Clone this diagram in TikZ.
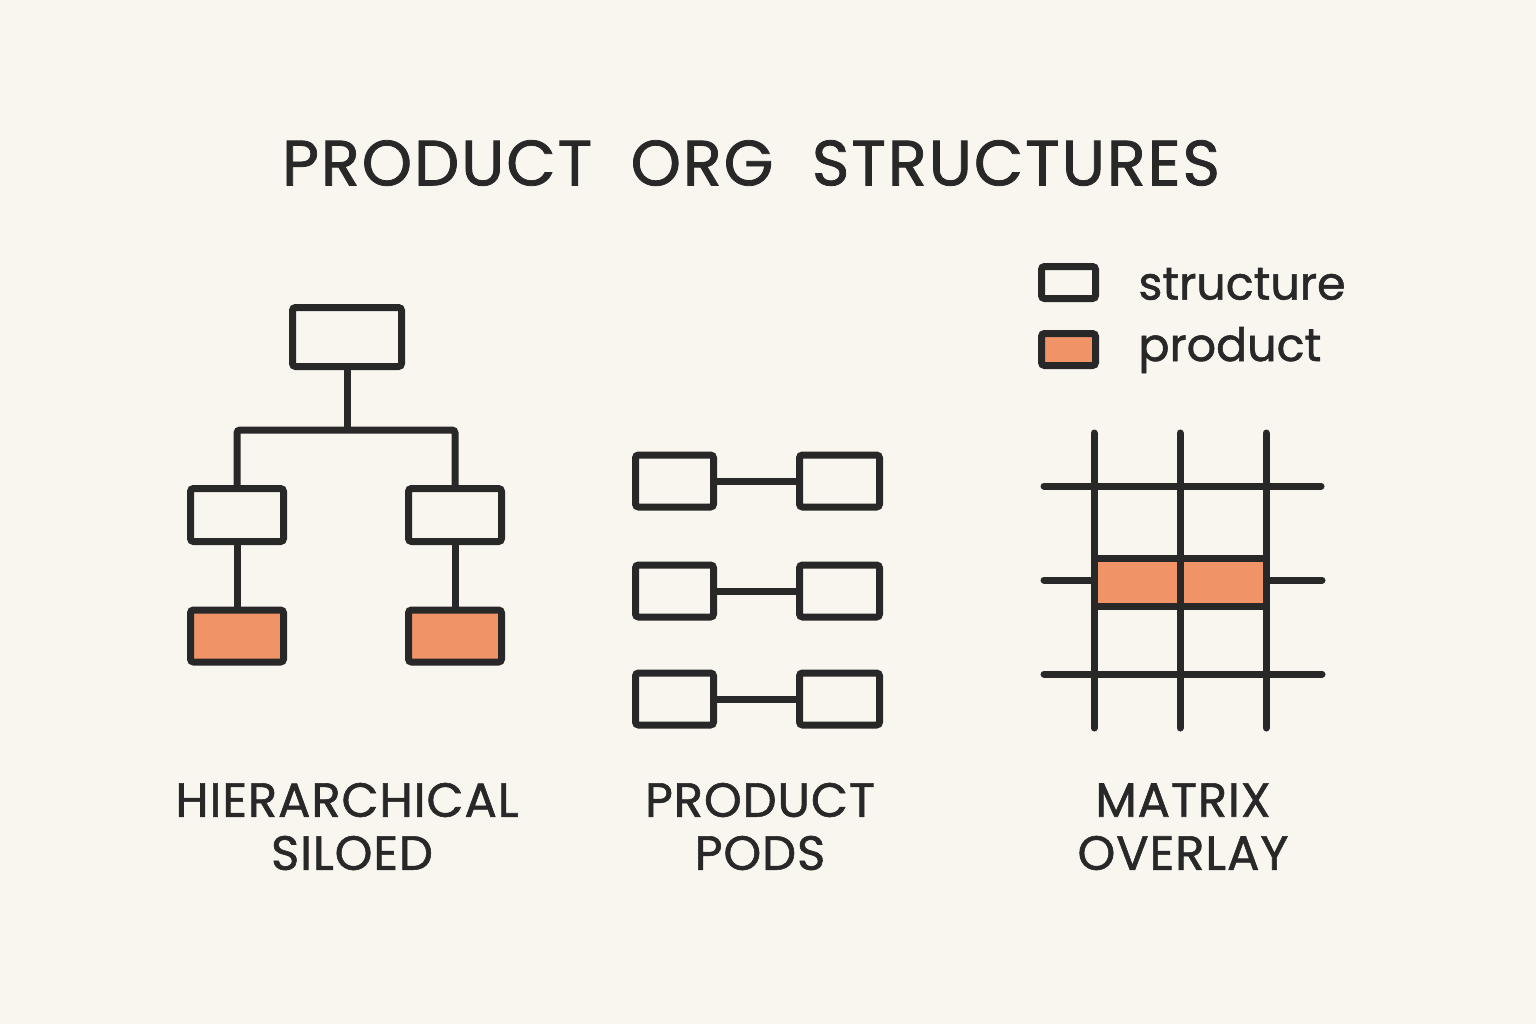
\documentclass[tikz,border=0pt]{standalone}
\usepackage{fontspec}
\setmainfont[FakeBold=1.2]{Poppins}
\definecolor{bg}{RGB}{249,246,240}
\definecolor{ink}{RGB}{40,40,40}
\definecolor{prod}{RGB}{240,148,104}
\begin{document}
\begin{tikzpicture}[x=0.5pt,y=-0.5pt,
  box/.style={draw=ink,line width=3.5pt,rounded corners=1.5pt,fill=bg,inner sep=0pt},
  pbox/.style={box,fill=prod},
  link/.style={draw=ink,line width=3.5pt},
  gline/.style={draw=ink,line width=3.5pt,line cap=round},
  lbl/.style={font=\fontsize{24}{28}\selectfont\addfontfeature{LetterSpace=2},text=ink,align=center,inner sep=0pt},
  leg/.style={font=\fontsize{23}{28}\selectfont,text=ink,anchor=west,inner sep=0pt}]
\fill[bg] (0,0) rectangle (1536,1024);
\useasboundingbox (0,0) rectangle (1536,1024);
% title
\node[font=\fontsize{32}{38}\selectfont\addfontfeature{LetterSpace=3},text=ink,inner sep=0pt] (title) at (751,163) {PRODUCT\hspace{0.6em}ORG\hspace{0.6em}STRUCTURES};
% hierarchy
\node[box,minimum width=54.5pt,minimum height=29.5pt] (top) at (347,337) {};
\node[box,minimum width=46.5pt,minimum height=26.5pt] (ml) at (237,515) {};
\node[box,minimum width=46.5pt,minimum height=26.5pt] (mr) at (455,515) {};
\node[pbox,minimum width=46.5pt,minimum height=26pt] (bl) at (237,636) {};
\node[pbox,minimum width=46.5pt,minimum height=26pt] (br) at (455,636) {};
\coordinate (j) at (347,430);
\draw[link] (top.south) -- (j);
\draw[link,rounded corners=1.5pt] (ml.north) |- (j) -| (mr.north);
\draw[link] (ml.south) -- (bl.north);
\draw[link] (mr.south) -- (br.north);
% pods
\foreach \i/\y in {1/481,2/591,3/699}{
  \node[box,minimum width=39pt,minimum height=26pt] (pl\i) at (674.5,\y) {};
  \node[box,minimum width=40pt,minimum height=26pt] (pr\i) at (839.5,\y) {};
  \draw[link] (pl\i.east) -- (pr\i.west);
}
% matrix
\node[pbox,rounded corners=0pt,minimum width=86pt,minimum height=24pt] (cell) at (1180,582) {};
\foreach \x/\n in {1094/a,1180/b,1266/c}{
  \coordinate (v\n1) at (\x,433);
  \coordinate (v\n2) at (\x,728);
  \draw[gline] (v\n1) -- (v\n2);
}
\coordinate (h11) at (1044,486); \coordinate (h12) at (1321,486);
\coordinate (h31) at (1044,674); \coordinate (h32) at (1322,674);
\coordinate (h21) at (1044,580); \coordinate (h22) at (1322,580);
\draw[gline] (h11) -- (h12);
\draw[gline] (h31) -- (h32);
\draw[gline] (h21) -- (h21 -| cell.west);
\draw[gline] (h22 -| cell.east) -- (h22);
% legend
\node[box,minimum width=27pt,minimum height=16pt] (ls) at (1068.5,282.5) {};
\node[pbox,minimum width=27pt,minimum height=16pt] (lp) at (1068.5,349.5) {};
\node[leg] (lst) at (1138,284) {structure};
\node[leg] (lpt) at (1138,350) {product};
% labels
\node[lbl] (l1a) at (347,800) {HIERARCHICAL};
\node[lbl] (l1b) at (352,853) {SILOED};
\node[lbl] (l2a) at (760,800) {PRODUCT};
\node[lbl] (l2b) at (760,853) {PODS};
\node[lbl] (l3a) at (1183,800) {MATRIX};
\node[lbl] (l3b) at (1183,853) {OVERLAY};
\end{tikzpicture}
\end{document}
